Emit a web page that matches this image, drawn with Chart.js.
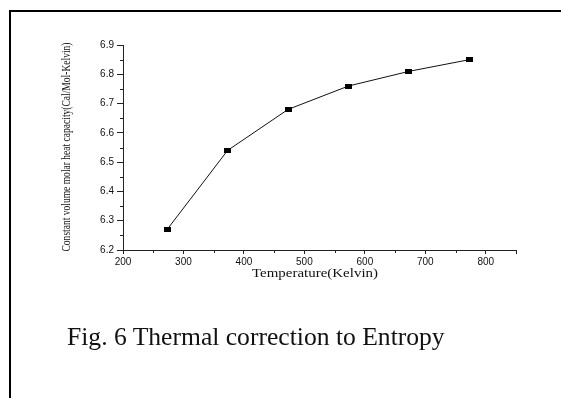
<!DOCTYPE html>
<html>
<head>
<meta charset="utf-8">
<script src="https://cdn.jsdelivr.net/npm/chart.js@4/dist/chart.umd.min.js"></script>
<style>
  html, body { margin: 0; padding: 0; background: #fff; }
  #wrap { position: relative; width: 561px; height: 398px; overflow: hidden; }
  #frame {
    position: absolute; left: 9px; top: 10px; width: 700px; height: 500px;
    border-left: 2px solid #000; border-top: 2px solid #000;
  }
  #chart { position: absolute; left: 0; top: 0; }
  #caption {
    position: absolute; left: 67px; top: 322px; white-space: nowrap;
    font-family: "Liberation Serif", serif; font-size: 25.6px; color: #111;
  }
</style>
</head>
<body>
<div id="wrap">
  <div id="frame"></div>
  <canvas id="chart" width="561" height="398"></canvas>
  <div id="caption">Fig. 6 Thermal correction to Entropy</div>
</div>
<script>
// dados
const temperatures = [273, 373, 473, 573, 673, 773];
const heatCapacity = [6.27, 6.54, 6.68, 6.76, 6.81, 6.85];
const xTicks = [200, 300, 400, 500, 600, 700, 800];
const yTicks = [6.2, 6.3, 6.4, 6.5, 6.6, 6.7, 6.8, 6.9];
const xTitle = 'Temperature(Kelvin)';
const yTitle = 'Constant volume molar heat capacity(Cal/Mol-Kelvin)';

// marcador retangular preto
const marker = document.createElement('canvas');
marker.width = 7;
marker.height = 5;
const mctx = marker.getContext('2d');
mctx.fillStyle = '#000';
mctx.fillRect(0, 0, 7, 5);

// desenha um texto esticado/condensado para caber num comprimento
function fitText(ctx, text, cx, cy, len, rot) {
  ctx.save();
  ctx.font = '12px "Liberation Serif"';
  ctx.fillStyle = '#111';
  ctx.textAlign = 'center';
  ctx.textBaseline = 'middle';
  const w = ctx.measureText(text).width;
  ctx.translate(cx, cy);
  ctx.rotate(rot);
  ctx.scale(len / w, 1);
  ctx.fillText(text, 0, 0);
  ctx.restore();
}

// ticks menores e títulos dos eixos
const extras = {
  id: 'extras',
  afterDraw(chart) {
    const ctx = chart.ctx;
    const x = chart.scales.x;
    const y = chart.scales.y;
    ctx.save();
    ctx.strokeStyle = '#222';
    ctx.lineWidth = 1;
    ctx.beginPath();
    for (let v = 250; v <= 850; v += 100) {
      const px = Math.round(x.getPixelForValue(v)) + 0.5;
      ctx.moveTo(px, y.bottom);
      ctx.lineTo(px, y.bottom + 3);
    }
    for (let v = 6.25; v < 6.9; v += 0.1) {
      const py = Math.round(y.getPixelForValue(v)) + 0.5;
      ctx.moveTo(x.left - 3, py);
      ctx.lineTo(x.left, py);
    }
    ctx.stroke();
    ctx.restore();

    fitText(ctx, yTitle, 67, 147, 209, -Math.PI / 2);
    fitText(ctx, xTitle, 315, 274, 126, 0);
  }
};

new Chart(document.getElementById('chart').getContext('2d'), {
  type: 'line',
  data: {
    datasets: [{
      data: temperatures.map((t, i) => ({ x: t, y: heatCapacity[i] })),
      borderColor: '#111',
      borderWidth: 1,
      pointStyle: marker,
      pointRadius: 3,
      tension: 0,
      fill: false
    }]
  },
  options: {
    responsive: false,
    animation: false,
    layout: { padding: { left: 0, top: 45, right: 45, bottom: 116 } },
    plugins: { legend: { display: false }, tooltip: { enabled: false } },
    scales: {
      x: {
        type: 'linear',
        min: 200,
        max: 850,
        afterFit: s => { s.height = 32; },
        afterBuildTicks: s => { s.ticks = xTicks.concat([850]).map(v => ({ value: v })); },
        border: { color: '#222', width: 1 },
        grid: { drawOnChartArea: false, tickLength: 4, color: '#222' },
        ticks: {
          padding: 2,
          color: '#111',
          font: { family: 'Liberation Sans', size: 10 },
          callback: v => (xTicks.includes(v) ? String(v) : '')
        }
      },
      y: {
        min: 6.2,
        max: 6.9,
        afterFit: s => { s.width = 123; },
        afterBuildTicks: s => { s.ticks = yTicks.map(v => ({ value: v })); },
        border: { color: '#222', width: 1 },
        grid: { drawOnChartArea: false, tickLength: 6, color: '#222' },
        ticks: {
          padding: 3,
          color: '#111',
          font: { family: 'Liberation Sans', size: 10 },
          callback: v => v.toFixed(1)
        }
      }
    }
  },
  plugins: [extras]
});
</script>
</body>
</html>
